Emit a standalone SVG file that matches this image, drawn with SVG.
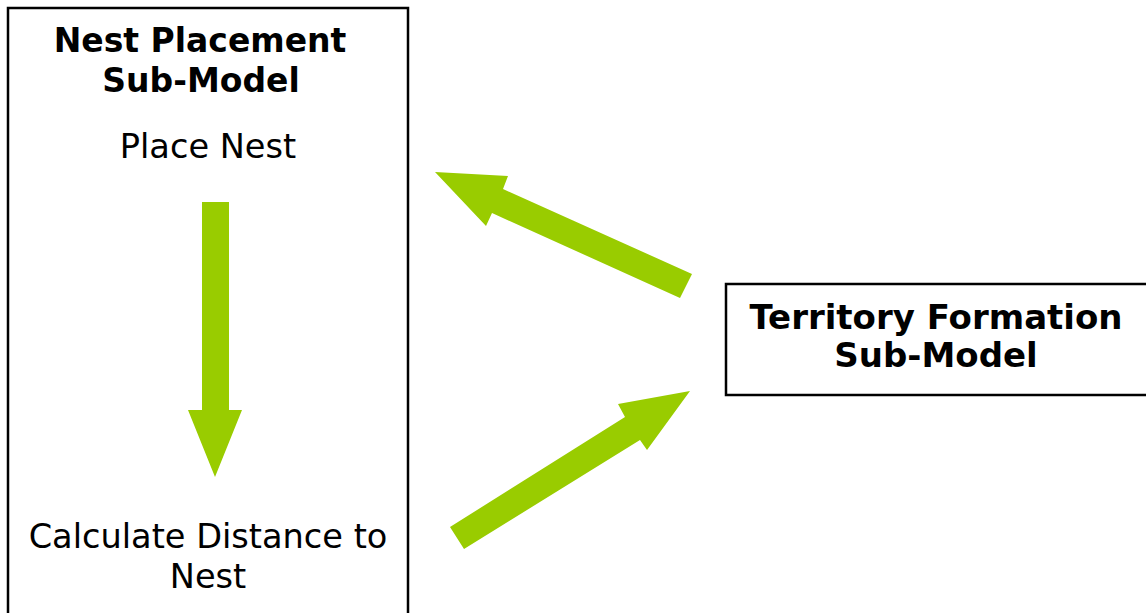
<svg xmlns="http://www.w3.org/2000/svg" width="1146" height="613" viewBox="0 0 1146 613">
<style>
.box{fill:#fff;stroke:#000;stroke-width:2.5}
.t{font-family:"DejaVu Sans",Verdana,sans-serif;font-size:33.6px;fill:#000;text-anchor:middle}
.b{font-weight:bold;font-size:33px}
.b2{font-weight:bold;font-size:34px}
.arr{fill:#99CC00;stroke:none}
</style>
<rect width="1146" height="613" fill="#fff"/>
<g id="nest-placement">
<rect class="box" x="8" y="8" width="400" height="640"/>
<text class="t b" x="200" y="52">Nest Placement</text>
<text class="t b" x="201" y="92">Sub-Model</text>
<text class="t" x="208" y="158">Place Nest</text>
<text class="t" x="208" y="548">Calculate Distance to</text>
<text class="t" x="208" y="588">Nest</text>
</g>
<g id="territory-formation">
<rect class="box" x="726" y="284" width="440" height="111"/>
<text class="t b2" x="936" y="329">Territory Formation</text>
<text class="t b2" x="936" y="367">Sub-Model</text>
</g>
<g id="connectors">
<polygon class="arr" points="202,202 229,202 229,410 242,410 215,477 188,410 202,410"/>
<polygon class="arr" points="435,172 508,176 503,189 692,274 680,298 492,213 486,226"/>
<polygon class="arr" points="690,391 647,450 640,440 464,549 450,527 625,417 618,404"/>
</g>
</svg>
